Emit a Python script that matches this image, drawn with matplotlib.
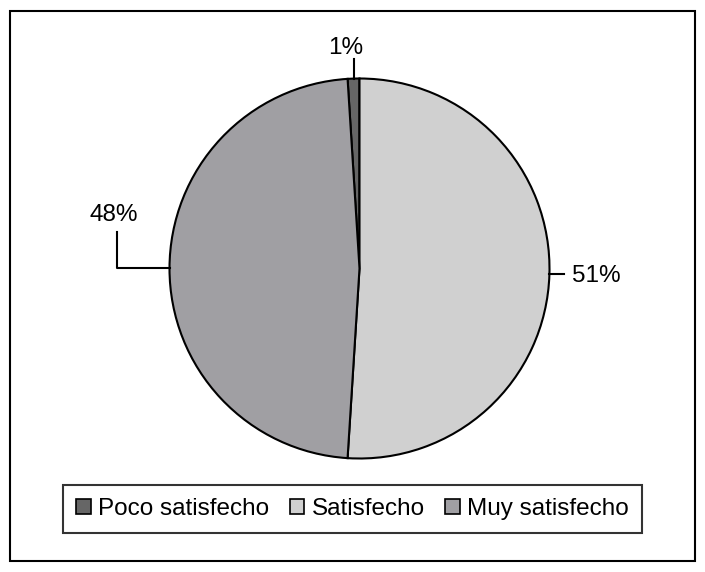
import matplotlib.pyplot as plt
import numpy as np
from matplotlib.patches import Rectangle

plt.rcParams['font.family'] = ['Liberation Sans', 'DejaVu Sans']

# data
categories = ["Poco satisfecho", "Satisfecho", "Muy satisfecho"]
values = [1, 51, 48]
colors = ["#666666", "#d0d0d0", "#a09fa3"]

fig = plt.figure(figsize=(7.05, 5.72), dpi=100)
ax = fig.add_axes([0, 0, 1, 1])

# outer frame
ax.add_patch(Rectangle((10, 11), 685, 550, fill=False, lw=1.5, ec="black"))

cx, cy, r = 359.5, 303.5, 190
start = 90 + values[0] / sum(values) * 360
wedges, _ = ax.pie(values, colors=colors, startangle=start, counterclock=False,
                   center=(cx, cy), radius=r, frame=True,
                   wedgeprops=dict(edgecolor="black", linewidth=1.5))
ax.set_xlim(0, 705)
ax.set_ylim(0, 572)
ax.axis("off")

# labels with leader lines
fs = 17.5
for w, v in zip(wedges, values):
    mid = np.deg2rad((w.theta1 + w.theta2) / 2)
    x0 = cx + r * np.cos(mid)
    y0 = cy + r * np.sin(mid)
    txt = f"{v}%"
    if v == 1:
        ax.plot([x0, x0], [y0, y0 + 20], color="black", lw=1.5)
        ax.text(x0 - 8, y0 + 31, txt, ha="center", va="center", fontsize=fs)
    elif x0 < cx:
        ax.plot([x0, x0 - 53, x0 - 53], [y0, y0, y0 + 36], color="black", lw=1.5)
        ax.text(x0 - 56, y0 + 53, txt, ha="center", va="center", fontsize=fs)
    else:
        ax.plot([x0, x0 + 15], [y0, y0], color="black", lw=1.5)
        ax.text(x0 + 23, y0 - 2, txt, ha="left", va="center", fontsize=fs)

leg = ax.legend(wedges, categories, loc="center", bbox_to_anchor=(352.5 / 705, 1 - 509 / 572),
                ncol=3, fontsize=fs, frameon=True, fancybox=False, edgecolor="black",
                handlelength=0.6, handleheight=0.6, handletextpad=0.3, columnspacing=0.85,
                borderpad=0.55, borderaxespad=0)
leg.get_frame().set_linewidth(1.5)
for h in leg.legend_handles:
    h.set_linewidth(1.2)

fig.savefig("out.png", dpi=100)
